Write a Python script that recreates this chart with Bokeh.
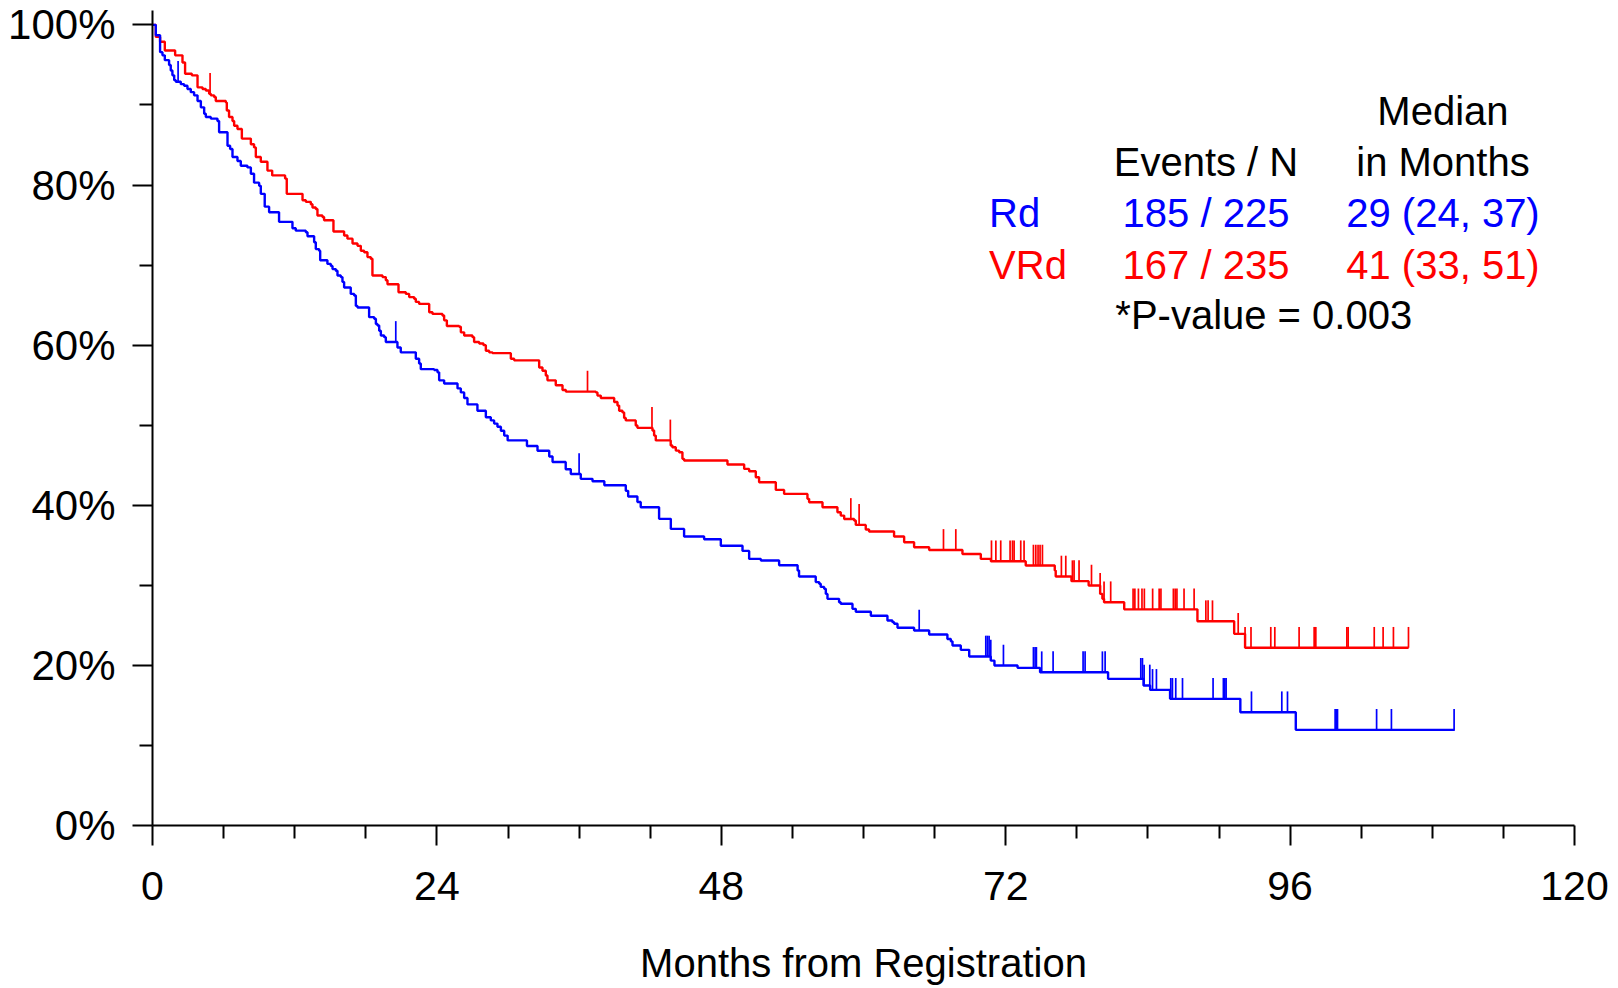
from bisect import bisect_right
from bokeh.plotting import figure
from bokeh.models import Range1d, FixedTicker, PrintfTickFormatter, Label
from bokeh.embed import file_html
from bokeh.resources import INLINE

# ---- data (months, % event-free) ----
rd_time = [0, 0.28, 0.64, 0.84, 1.04, 1.40, 1.54, 1.68, 1.83, 1.97, 2.39, 2.67, 2.95, 3.23, 3.51, 3.80,
           4.08, 4.36, 4.50, 4.92, 5.48, 5.62, 6.33, 6.55, 6.75, 7.17, 7.45, 8.01, 8.30, 8.57, 9.00, 9.14,
           9.47, 9.84, 10.68, 11.81, 12.09, 12.94, 13.08, 13.64, 13.78, 14.06, 14.15, 14.76, 15.05, 15.19,
           15.47, 15.61, 15.89, 16.03, 16.17, 16.73, 17.02, 17.16, 17.30, 18.28, 18.71, 18.85, 18.99, 19.13,
           19.27, 19.55, 19.69, 20.67, 20.95, 22.22, 22.50, 22.64, 23.77, 24.05, 24.19, 24.61, 25.74, 26.02,
           26.30, 26.58, 27.42, 28.13, 28.55, 28.83, 29.11, 29.40, 29.68, 29.97, 31.60, 32.49, 33.48, 33.76,
           34.87, 35.30, 36.14, 37.13, 38.13, 39.94, 40.14, 40.92, 41.20, 42.75, 43.74, 44.86, 46.55, 47.96,
           49.79, 50.35, 51.34, 52.88, 54.44, 54.56, 55.97, 56.26, 56.39, 56.68, 56.82, 56.96, 57.94, 58.08,
           59.07, 59.35, 60.62, 62.02, 62.44, 62.59, 62.87, 64.27, 65.54, 67.08, 67.37, 67.51, 68.21, 68.92,
           70.74, 71.05, 73.00, 74.90, 80.64, 83.63, 84.19, 85.87, 91.80, 96.48]
rd_surv = [100, 98.7, 96.6, 96.2, 95.6, 95.0, 94.3, 93.7, 93.1, 92.9, 92.6, 92.4, 92.0, 91.6, 91.2, 90.5,
           89.7, 88.9, 88.5, 88.3, 88.0, 86.6, 84.9, 84.5, 83.5, 83.0, 82.4, 82.2, 81.4, 80.3, 79.9, 78.9,
           77.3, 76.6, 75.4, 74.6, 74.3, 74.1, 73.6, 72.85, 72.0, 71.8, 70.6, 70.15, 69.9, 69.5,
           69.3, 68.7, 68.5, 67.9, 67.2, 66.4, 66.2, 64.9, 64.7, 63.5, 63.3, 62.65, 62.45, 61.8,
           61.2, 61.0, 60.4, 59.7, 59.1, 58.3, 57.7, 57.0, 56.9, 56.6, 55.6, 55.2, 54.6, 54.1,
           53.4, 52.6, 51.8, 51.0, 50.6, 50.2, 49.8, 49.3, 48.7, 48.1, 47.4, 46.8, 46.1, 45.4,
           44.5, 43.9, 43.3, 43.0, 42.5, 41.8, 41.1, 40.4, 39.75, 38.3, 37.05, 36.1, 35.75, 34.95,
           34.3, 33.3, 33.1, 32.5, 31.85, 31.1, 30.4, 30.2, 29.8, 29.56, 28.93, 28.31, 27.89, 27.69,
           27.06, 26.7, 26.2, 25.6, 25.4, 25.2, 24.7, 24.35, 23.85, 23.3, 23.0, 22.48, 21.94, 21.11,
           20.6, 19.98, 19.69, 19.15, 18.32, 17.49, 16.94, 15.82, 14.15, 11.95]
rd_end = 109.9
rd_cens = [2.16, 20.53, 36.0, 64.7, 70.32, 70.46, 70.6, 70.74, 71.81, 74.34, 74.48, 74.59, 75.04, 76.0,
           78.53, 78.7, 80.16, 80.39, 83.4, 83.54, 83.68, 84.16, 84.39, 84.72, 85.93, 86.07, 86.35, 86.92,
           89.5, 90.37, 90.49, 90.6, 92.74, 95.3, 95.78, 99.8, 99.91, 100.0, 103.3, 104.55, 109.84]

vrd_time = [0, 0.28, 0.64, 1.04, 1.91, 2.53, 2.75, 3.32, 3.80, 4.22, 4.50, 4.78, 4.92, 5.20, 5.34, 6.19,
            6.27, 6.46, 6.75, 6.89, 7.17, 7.54, 8.30, 8.57, 8.72, 9.14, 9.70, 10.10, 11.19, 11.33, 12.66,
            12.94, 13.36, 13.50, 13.78, 13.92, 14.34, 14.48, 15.27, 16.17, 16.45, 16.88, 17.30, 17.58, 17.86,
            18.14, 18.42, 18.56, 19.41, 19.69, 19.83, 20.76, 21.38, 21.66, 22.08, 22.22, 22.50, 23.35, 23.63,
            24.47, 24.61, 24.84, 25.88, 26.02, 26.30, 27.00, 27.14, 27.57, 27.93, 28.13, 28.41, 28.69, 30.24,
            30.52, 32.63, 32.91, 33.19, 33.33, 34.03, 34.60, 34.88, 37.41, 37.55, 37.83, 38.96, 39.24, 39.38,
            39.66, 39.80, 39.94, 40.78, 40.92, 42.19, 42.33, 42.47, 43.73, 43.87, 44.16, 44.44, 44.72, 44.86,
            48.52, 49.93, 50.35, 50.91, 51.19, 52.60, 53.30, 55.27, 55.41, 56.54, 57.80, 58.08, 58.37, 59.21,
            59.35, 60.19, 60.47, 62.58, 63.43, 64.27, 65.54, 68.35, 69.90, 70.75, 73.69, 76.14, 76.22, 77.55,
            79.00, 79.97, 80.16, 80.30, 82.00, 88.18, 91.28, 92.20]
vrd_surv = [100, 98.5, 97.9, 96.8, 96.2, 95.3, 93.9, 93.7, 92.2, 92.0, 91.8, 91.4, 91.2, 91.0, 90.5, 90.3,
            89.3, 88.5, 88.0, 87.4, 87.0, 85.8, 85.1, 84.7, 83.5, 82.9, 81.8, 81.2, 80.8, 78.9, 78.1,
            77.9, 77.6, 77.2, 77.0, 76.2, 76.0, 75.6, 74.2, 73.7, 73.3, 72.7, 72.4, 71.8, 71.6,
            71.0, 70.8, 68.7, 68.5, 68.1, 67.6, 66.6, 66.4, 66.0, 65.8, 65.4, 65.15, 64.1, 63.9,
            63.7, 63.1, 62.4, 62.3, 61.6, 61.2, 61.0, 60.4, 60.2, 60.0, 59.3, 59.1, 59.0, 58.3,
            58.1, 57.2, 56.8, 56.2, 55.6, 55.0, 54.4, 54.2, 54.1, 53.7, 53.4, 52.9, 52.45, 51.8,
            51.6, 50.9, 50.6, 49.96, 49.67, 49.33, 48.7, 48.1, 47.46, 47.25, 46.83, 46.62, 45.8, 45.6,
            45.1, 44.54, 44.25, 43.5, 42.87, 41.92, 41.42, 40.8, 40.37, 39.75, 39.12, 38.71, 38.29, 38.09,
            37.55, 36.97, 36.72, 36.1, 35.38, 34.76, 34.42, 33.92, 33.3, 33.01, 32.47, 31.85, 31.1, 30.52,
            29.97, 28.93, 28.31, 27.89, 27.0, 25.52, 23.94, 22.2]
vrd_end = 106.0
vrd_cens = [4.86, 36.71, 42.15, 43.7, 58.93, 59.63, 66.75, 67.79, 70.8, 71.17, 71.58, 72.37, 72.57, 72.71,
            73.27, 73.55, 74.34, 74.54, 74.73, 74.9, 75.1, 76.7, 77.07, 77.63, 77.77, 78.19, 79.24, 79.97,
            80.3, 80.86, 82.75, 82.9, 83.2, 83.5, 83.7, 84.4, 84.95, 85.1, 86.15, 86.3, 86.45, 87.05, 87.9,
            88.89, 89.08, 89.45, 91.62, 92.2, 92.7, 94.37, 94.71, 96.76, 98.03, 98.17, 100.79, 100.9, 103.1,
            103.85, 104.72, 105.99]

x_ticks = [0, 24, 48, 72, 96, 120]
x_minor = [6, 12, 18, 30, 36, 42, 54, 60, 66, 78, 84, 90, 102, 108, 114]
y_ticks = [0, 20, 40, 60, 80, 100]
y_minor = [10, 30, 50, 70, 90]

BLUE = "#0000FF"
RED = "#FF0000"
FONT = "Liberation Sans"
FS = "40px"

p = figure(frame_width=1422, frame_height=815, x_range=Range1d(0, 120), y_range=Range1d(0, 101.8),
           output_backend="svg", toolbar_location=None,
           min_border_left=152, min_border_right=36, min_border_top=10, min_border_bottom=160)
p.outline_line_color = None
p.grid.visible = False
p.background_fill_color = "white"
p.border_fill_color = "white"

for ax in (p.xaxis[0], p.yaxis[0]):
    ax.axis_line_width = 2
    ax.axis_line_color = "black"
    ax.major_tick_line_width = 2
    ax.minor_tick_line_width = 2
    ax.major_tick_out = 20
    ax.major_tick_in = 0
    ax.minor_tick_out = 13
    ax.minor_tick_in = 0
    ax.major_label_text_font = FONT
    ax.major_label_text_color = "black"

p.xaxis.major_label_text_font_size = "41px"
p.yaxis.major_label_text_font_size = "42px"
p.xaxis.ticker = FixedTicker(ticks=x_ticks, minor_ticks=x_minor)
p.yaxis.ticker = FixedTicker(ticks=y_ticks, minor_ticks=y_minor)
p.yaxis.formatter = PrintfTickFormatter(format="%d%%")
p.xaxis.major_label_standoff = 26
p.yaxis.major_label_standoff = 17
p.xaxis.axis_label = "Months from Registration"
p.xaxis.axis_label_text_font = FONT
p.xaxis.axis_label_text_font_size = FS
p.xaxis.axis_label_text_font_style = "normal"
p.xaxis.axis_label_text_color = "black"
p.xaxis.axis_label_standoff = 38


def level_at(times, survs, t):
    return survs[bisect_right(times, t) - 1]


for times, survs, end, cens, col in ((vrd_time, vrd_surv, vrd_end, vrd_cens, RED),
                                     (rd_time, rd_surv, rd_end, rd_cens, BLUE)):
    xs = list(times) + [end]
    ys = list(survs) + [survs[-1]]
    p.step(xs, ys, mode="after", line_color=col, line_width=2.4)
    lv = [level_at(times, survs, t) for t in cens]
    p.segment(x0=cens, y0=lv, x1=cens, y1=[v + 2.6 for v in lv], line_color=col, line_width=1.7)

texts = [
    ("Median", 108.9, 89.3, "black", "center"),
    ("Events / N", 88.9, 82.9, "black", "center"),
    ("in Months", 108.9, 82.9, "black", "center"),
    ("Rd", 70.6, 76.5, BLUE, "left"),
    ("185 / 225", 88.9, 76.5, BLUE, "center"),
    ("29 (24, 37)", 108.9, 76.5, BLUE, "center"),
    ("VRd", 70.6, 70.0, RED, "left"),
    ("167 / 235", 88.9, 70.0, RED, "center"),
    ("41 (33, 51)", 108.9, 70.0, RED, "center"),
    ("*P-value = 0.003", 81.25, 63.8, "black", "left"),
]
for t, x, y, c, al in texts:
    p.add_layout(Label(x=x, y=y, text=t, text_color=c, text_font=FONT, text_font_size=FS,
                       text_align=al, text_baseline="middle"))

open("out.html", "w").write(file_html(p, INLINE))
